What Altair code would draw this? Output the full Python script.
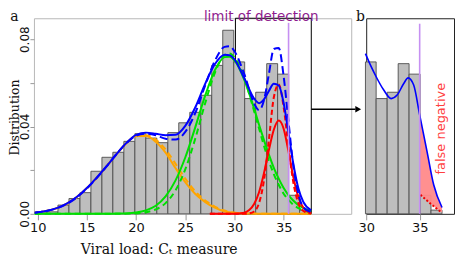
import altair as alt
import pandas as pd

# ---------------- data ----------------
bin_edges = [9.83, 10.95, 12.06, 13.18, 14.30, 15.41, 16.53, 17.64, 18.76, 19.88,
             20.99, 22.11, 23.23, 24.34, 25.46, 26.58, 27.69, 28.81, 29.93, 31.04,
             32.16, 33.28, 34.39, 35.51, 36.62, 37.74]
bar_density = [0.0009, 0.0009, 0.0040, 0.0070, 0.0097, 0.0195, 0.0259, 0.0282, 0.0332,
               0.0367, 0.0347, 0.0326, 0.0372, 0.0417, 0.0465, 0.0543, 0.0680, 0.0841,
               0.0696, 0.0528, 0.0557, 0.0688, 0.0640, 0.0085, 0.0017]

ct = [9.7, 10, 11, 12, 13, 14, 15, 16, 17, 18, 19, 20, 21, 22, 23, 24, 25, 26, 27, 28,
      29, 29.5, 30, 31, 32, 32.5, 33, 33.5, 34, 34.5, 35, 35.5, 36, 36.5, 37, 37.8]
orange_solid = [0.0005, 0.0007, 0.0014, 0.0027, 0.0048, 0.0078, 0.0118, 0.0166, 0.0218,
                0.0272, 0.0322, 0.0356, 0.0356, 0.0330, 0.0280, 0.0210, 0.0145, 0.0092,
                0.0055, 0.0028, 0.0011, 0.0007, 0.0005, 0.0002, 0.0001,
                0, 0, 0, 0, 0, 0, 0, 0, 0, 0, 0]
orange_dashed = [0.0005, 0.0007, 0.0014, 0.0026, 0.0046, 0.0076, 0.0116, 0.0164, 0.0217,
                 0.0272, 0.0322, 0.0355, 0.0360, 0.0340, 0.0295, 0.0230, 0.0162, 0.0104,
                 0.0062, 0.0033, 0.0015, 0.0009, 0.0005, 0.0002, 0.0001,
                 0, 0, 0, 0, 0, 0, 0, 0, 0, 0, 0]
green_solid = [0, 0, 0, 0, 0, 0, 0, 0, 0,
               0.0001, 0.0002, 0.0006, 0.0016, 0.0037, 0.0080, 0.0152, 0.0258, 0.0394,
               0.0538, 0.0657, 0.0718, 0.0720, 0.0703, 0.0614, 0.0482, 0.0408, 0.0338,
               0.0271, 0.0211, 0.0161, 0.0118, 0.0085, 0.0060, 0.0040, 0.0027, 0.0013]
green_dashed = [0, 0, 0, 0, 0, 0, 0, 0, 0,
                0.0000, 0.0001, 0.0002, 0.0007, 0.0020, 0.0049, 0.0107, 0.0204, 0.0342,
                0.0503, 0.0645, 0.0727, 0.0735, 0.0717, 0.0621, 0.0470, 0.0391, 0.0312,
                0.0242, 0.0182, 0.0133, 0.0092, 0.0064, 0.0041, 0.0026, 0.0016, 0.0007]
blue_solid = [0.0005, 0.0007, 0.0014, 0.0027, 0.0048, 0.0078, 0.0118, 0.0166, 0.0218,
              0.0273, 0.0324, 0.0362, 0.0372, 0.0367, 0.0360, 0.0362, 0.0403, 0.0486,
              0.0593, 0.0685, 0.0729, 0.0727, 0.0708, 0.0621, 0.0528, 0.0507, 0.0524,
              0.0563, 0.0596, 0.0588, 0.0508, 0.0369, 0.0225, 0.0116, 0.0055, 0.0016]
blue_dashed = [0.0005, 0.0007, 0.0014, 0.0026, 0.0046, 0.0076, 0.0116, 0.0164, 0.0217,
               0.0273, 0.0323, 0.0357, 0.0367, 0.0360, 0.0344, 0.0340, 0.0375, 0.0460,
               0.0585, 0.0700, 0.0765, 0.0768, 0.0745, 0.0640, 0.0505, 0.0475, 0.0520,
               0.0640, 0.0755, 0.0760, 0.0630, 0.0420, 0.0215, 0.0090, 0.0030, 0.0008]

ct_red = [27.5, 28, 29, 30, 31, 31.5, 32, 32.5, 33, 33.5, 34, 34.5, 35, 35.5, 36, 36.5, 37, 37.8]
red_solid = [0, 0, 0, 0, 0.0005, 0.0017, 0.0045, 0.0099, 0.0186, 0.0292, 0.0385, 0.0427,
             0.0390, 0.0284, 0.0165, 0.0076, 0.0028, 0.0003]
red_dashed = [0, 0, 0, 0, 0, 0.0002, 0.0011, 0.0049, 0.0153, 0.0340, 0.0533, 0.0593,
              0.0489, 0.0305, 0.0140, 0.0048, 0.0013, 0.0001]

# zoomed panel (b)
zoom_edges = [29.93, 30.93, 31.96, 32.99, 34.01, 35.04, 36.06, 37.09]
zoom_bars = bar_density[18:]
zb_ct = [29.93, 30.4, 30.93, 31.64, 32.33, 32.89, 33.51, 33.92, 34.44, 35.0, 35.69, 36.31, 37.09]
zb_fit = [0.0734, 0.0681, 0.0628, 0.0567, 0.0528, 0.0544, 0.0597, 0.0623, 0.0590, 0.0453,
          0.0285, 0.0133, 0.0029]
fn_ct = [35.0, 35.69, 36.31, 37.09]
fn_top = [0.0453, 0.0285, 0.0133, 0.0029]
fn_bottom = [0.0088, 0.0060, 0.0035, 0.0005]
dot_ct = [35.07, 36.05, 37.02]
dot_val = [0.0087, 0.0045, 0.0007]

detection_limit_main = 35.5
detection_limit_zoom = 35.0

# ---------------- styling ----------------
SANS = "DejaVu Sans"
SERIF = "DejaVu Serif"
Y_DOM = [0, 0.0896]
xscale_main = alt.Scale(domain=[9.62, 41.87], nice=False, zero=False)
xscale_zoom = alt.Scale(domain=[30.0, 38.21], nice=False, zero=False)
yscale = alt.Scale(domain=Y_DOM, nice=False, zero=False)

xaxis_main = alt.Axis(values=[10, 15, 20, 25, 30, 35], grid=False, domain=False,
                      tickColor="#999999", tickSize=6, labelFont=SANS, labelFontSize=13,
                      labelColor="#111111", labelPadding=2, labelAngle=0, labelFlush=False,
                      titleFont=SERIF, titleFontSize=14, titleFontWeight="normal",
                      titleColor="#111111", titleX=125, titleY=40, titleAlign="center",
                      titleBaseline="alphabetic")
yaxis_main = alt.Axis(values=[0, 0.02, 0.04, 0.06, 0.08],
                      labelExpr="(datum.value == 0.02 || datum.value == 0.06) ? '' : format(datum.value, '.2f')",
                      grid=False, domain=False, tickColor="#999999", tickSize=4,
                      labelAngle=270, labelAlign="center", labelBaseline="alphabetic",
                      labelPadding=1, labelFont=SANS, labelFontSize=12, labelColor="#111111",
                      labelFlush=False, labelOverlap=False,
                      titleFont=SERIF, titleFontSize=12.5, titleFontWeight="normal",
                      titleColor="#111111", titleAngle=270, titleX=-15, titleY=99,
                      titleAlign="center", titleBaseline="alphabetic")
xaxis_zoom = alt.Axis(values=[30, 35], grid=False, domain=False, tickColor="#999999",
                      tickSize=6, labelFont=SANS, labelFontSize=13, labelColor="#111111",
                      labelPadding=2, labelAngle=0, labelFlush=False)

XT = "Viral load: C\u209c measure"


def xm(field):
    return alt.X(field, type="quantitative", scale=xscale_main, axis=xaxis_main, title=XT)


def ym(field):
    return alt.Y(field, type="quantitative", scale=yscale, axis=yaxis_main, title="Distribution")


def xz(field):
    return alt.X(field, type="quantitative", scale=xscale_zoom, axis=xaxis_zoom, title=None)


def yz(field):
    return alt.Y(field, type="quantitative", scale=yscale, axis=None)


# ---------------- main panel ----------------
bars_df = pd.DataFrame({"x0": bin_edges[:-1], "x1": bin_edges[1:], "h": bar_density})
one = pd.DataFrame({"k": [0]})

# invisible corner anchor: fixes the top-left of the drawing at the page margin
anchor = alt.Chart(one).mark_rect(fill="white", opacity=0).encode(
    x=alt.datum(7.085, scale=xscale_main), x2=alt.datum(7.3),
    y=alt.datum(0.09326, scale=yscale), y2=alt.datum(0.0923))

zoom_box = alt.Chart(one).mark_rect(fill="white", fillOpacity=0, stroke="black",
                                    strokeWidth=1).encode(
    x=alt.datum(30.1), x2=alt.datum(37.81),
    y=alt.datum(0.0), y2=alt.datum(Y_DOM[1]))

bars = alt.Chart(bars_df).mark_rect(fill="#bebebe", stroke="#4d4d4d", strokeWidth=0.9).encode(
    x=xm("x0"), x2="x1", y=ym("h"), y2=alt.datum(0))


def curve(xv, yv, color, dash=None, width=2.0):
    df = pd.DataFrame({"x": xv, "y": yv})
    kw = dict(color=color, strokeWidth=width, interpolate="monotone")
    if dash:
        kw["strokeDash"] = dash
    return alt.Chart(df).mark_line(**kw).encode(x=xm("x"), y=ym("y"))


curves = [
    curve(ct, orange_dashed, "#ffa500", [6, 4]),
    curve(ct, orange_solid, "#ffa500"),
    curve(ct, green_dashed, "#00e000", [6, 4]),
    curve(ct, green_solid, "#00e000"),
    curve(ct_red, red_dashed, "#ff0000", [5, 3]),
    curve(ct_red, red_solid, "#ff0000"),
    curve(ct, blue_dashed, "#0000ff", [8, 4]),
    curve(ct, blue_solid, "#0000ff"),
]

lod_main = alt.Chart(one).mark_rule(color="#c690f2", strokeWidth=1.6).encode(
    x=alt.datum(detection_limit_main), y=alt.datum(0.0875), y2=alt.datum(0))

arrow_shaft = alt.Chart(one).mark_rule(color="black", strokeWidth=1.3).encode(
    x=alt.datum(37.81), x2=alt.datum(42.3), y=alt.datum(0.0479))
arrow_head = alt.Chart(one).mark_point(shape="triangle-right", filled=True, color="black",
                                       opacity=1, size=45).encode(
    x=alt.datum(42.58), y=alt.datum(0.0479))

lod_text = alt.Chart(one).mark_text(text="limit of detection", font=SANS, fontSize=13.5,
                                    color="#8e1b8e", align="center",
                                    baseline="alphabetic").encode(
    x=alt.datum(32.72), y=alt.datum(0.0883))
label_a = alt.Chart(one).mark_text(text="a", font=SERIF, fontSize=14, color="#111111",
                                   align="left", baseline="alphabetic").encode(
    x=alt.datum(7.2), y=alt.datum(0.0885))

main = alt.layer(anchor, zoom_box, bars, *curves, lod_main, arrow_shaft, arrow_head,
                 lod_text, label_a).properties(
    width=318, height=196, view=alt.ViewBackground(stroke="#b8b8b8", strokeWidth=1))

# ---------------- zoom panel ----------------
zbars_df = pd.DataFrame({"x0": zoom_edges[:-1], "x1": zoom_edges[1:], "h": zoom_bars})
zbars = alt.Chart(zbars_df).mark_rect(fill="#bebebe", stroke="#4d4d4d", strokeWidth=0.9).encode(
    x=xz("x0"), x2="x1", y=yz("h"), y2=alt.datum(0))

fn_df = pd.DataFrame({"x": fn_ct, "top": fn_top, "bottom": fn_bottom})
fn_area = alt.Chart(fn_df).mark_area(color="#ff8a8a", opacity=0.95,
                                     interpolate="monotone").encode(
    x=xz("x"), y=yz("top"), y2="bottom")

zfit = alt.Chart(pd.DataFrame({"x": zb_ct, "y": zb_fit})).mark_line(
    color="#0000ff", strokeWidth=1.6, interpolate="monotone").encode(x=xz("x"), y=yz("y"))

dots = alt.Chart(pd.DataFrame({"x": dot_ct, "y": dot_val})).mark_line(
    color="#ee0000", strokeWidth=2, strokeDash=[2, 2]).encode(x=xz("x"), y=yz("y"))

lod_zoom = alt.Chart(one).mark_rule(color="#c690f2", strokeWidth=1.6).encode(
    x=alt.datum(detection_limit_zoom), y=alt.datum(0.0871), y2=alt.datum(0))

fn_text = alt.Chart(one).mark_text(text="false negative", font=SANS, fontSize=13,
                                   color="#ff3f3f", angle=270, align="center",
                                   baseline="middle").encode(
    x=alt.datum(36.97), y=alt.datum(0.039))
label_b = alt.Chart(one).mark_text(text="b", font=SERIF, fontSize=14, color="#111111",
                                   align="center", baseline="alphabetic").encode(
    x=alt.datum(29.47), y=alt.datum(0.0882))

zoom = alt.layer(zbars, fn_area, zfit, dots, lod_zoom, fn_text, label_b).properties(
    width=88, height=196, view=alt.ViewBackground(stroke="#222222", strokeWidth=1))

chart = alt.hconcat(main, zoom, spacing=15, bounds="flush").properties(
    padding=0,
).configure(font=SANS).configure_view(stroke=None)

chart.save("out.html", embed_options={"renderer": "svg", "actions": False})
